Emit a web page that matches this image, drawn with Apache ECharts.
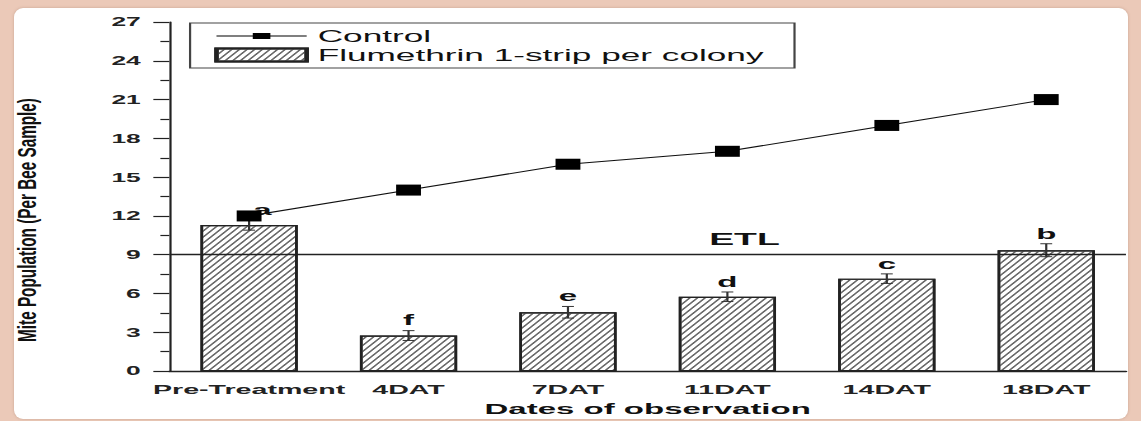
<!DOCTYPE html>
<html>
<head>
<meta charset="utf-8">
<script src="https://cdn.jsdelivr.net/npm/echarts@6/dist/echarts.min.js"></script>
<style>
  html, body { margin: 0; padding: 0; background: #ebc9b8; overflow: hidden; }
  #panel { position: absolute; left: 14px; top: 8px; width: 1114px; height: 411px;
           background: #fff; border-radius: 9px; box-shadow: 0 0 3px rgba(150,110,90,0.4); }
  /* the original figure is stretched sideways (about 2.2x), so draw narrow and widen */
  #main { position: absolute; left: 0; top: 0; width: 518.64px; height: 421px;
          transform: scaleX(2.2); transform-origin: 0 0; }
</style>
</head>
<body>
<div id="panel"></div>
<div id="main"></div>
<script>
const categories = ['Pre-Treatment', '4DAT', '7DAT', '11DAT', '14DAT', '18DAT'];
const control = [12, 14, 16, 17, 19, 21];
const flumethrin = [11.3, 2.75, 4.55, 5.75, 7.15, 9.35];
const flumethrinErr = [0.4, 0.38, 0.45, 0.37, 0.37, 0.5];
const letters = ['a', 'f', 'e', 'd', 'c', 'b'];
const etl = 9;

const font = 'Liberation Sans';
const errData = flumethrin.map((v, i) => [i, v - flumethrinErr[i], v + flumethrinErr[i]]);

const chart = echarts.init(document.getElementById('main'), null, { renderer: 'svg' });

function renderErr(params, api) {
  const i = api.value(0);
  const top = api.coord([i, api.value(2)]);
  const bot = api.coord([i, api.value(1)]);
  const cap = 2.7;
  const st = { stroke: '#333', lineWidth: 1 };
  // 'a' sits to the right of the control marker in the original
  const dx = params.dataIndex === 0 ? 6 : 0;
  return {
    type: 'group',
    children: [
      { type: 'line', shape: { x1: top[0], y1: top[1], x2: bot[0], y2: bot[1] }, style: st },
      { type: 'line', shape: { x1: top[0] - cap, y1: top[1], x2: top[0] + cap, y2: top[1] }, style: st },
      { type: 'line', shape: { x1: bot[0] - cap, y1: bot[1], x2: bot[0] + cap, y2: bot[1] }, style: st },
      {
        type: 'text', x: top[0] + dx, y: top[1] - 3, z2: 10,
        style: {
          text: letters[params.dataIndex], textAlign: 'center', textVerticalAlign: 'bottom',
          font: 'bold 15px ' + font, fill: '#111'
        }
      }
    ]
  };
}

// line with a small square, drawn as one filled path (tiny corner dots fix the box)
const controlIcon = 'path://M0,0h0.01v0.01h-0.01z M0,6.1h41v0.8h-41z M16.5,3.6h8v5.8h-8z M40.99,12.99h0.01v0.01h-0.01z';

chart.setOption({
  animation: false,
  grid: { left: 77, right: 7.2, top: 22, bottom: 49.5 },
  legend: {
    orient: 'vertical', left: 86.4, top: 23,
    backgroundColor: '#fff', borderColor: '#444', borderWidth: 1,
    padding: [5, 14, 5, 11],
    itemWidth: 41, itemHeight: 13, itemGap: 3,
    textStyle: { fontSize: 16, lineHeight: 16, fontFamily: font, color: '#111' },
    data: [
      { name: 'Control', icon: controlIcon },
      { name: 'Flumethrin 1-strip per colony', icon: 'rect' }
    ]
  },
  graphic: [{
    type: 'text', x: 12.4, y: 220, rotation: Math.PI / 2, scaleY: 0.76,
    style: {
      text: 'Mite Population (Per Bee Sample)', textAlign: 'center', textVerticalAlign: 'middle',
      font: 'bold 15.3px ' + font, fill: '#111'
    }
  }],
  xAxis: [{
    type: 'category', data: categories,
    name: 'Dates of observation', nameLocation: 'middle', nameGap: 28,
    nameTextStyle: { fontFamily: font, fontWeight: 'bold', fontSize: 15, color: '#111' },
    axisLine: { lineStyle: { color: '#222', width: 1.3 } },
    axisTick: { alignWithLabel: true, length: 7, lineStyle: { color: '#222', width: 1 } },
    axisLabel: { interval: 0, fontFamily: font, fontWeight: 'bold', fontSize: 13, color: '#222', margin: 12 },
    splitLine: { show: false }
  }, {
    type: 'category', data: categories, position: 'bottom',
    axisLine: { show: false },
    axisTick: { length: 4, lineStyle: { color: '#222', width: 1 } },
    axisLabel: { show: false },
    splitLine: { show: false }
  }],
  yAxis: {
    type: 'value', min: 0, max: 27, interval: 3,
    axisLine: { show: true, lineStyle: { color: '#222', width: 1 } },
    axisTick: { show: true, length: 7.3, lineStyle: { color: '#222', width: 1.2 } },
    minorTick: { show: true, splitNumber: 2, length: 4.1, lineStyle: { color: '#222', width: 1.2 } },
    axisLabel: { fontFamily: font, fontWeight: 'bold', fontSize: 12, color: '#222', margin: 13 },
    splitLine: { show: false }
  },
  series: [{
    name: 'Flumethrin 1-strip per colony', type: 'bar', data: flumethrin, barWidth: '61%',
    itemStyle: {
      color: '#fff', borderColor: '#222', borderWidth: 1.2,
      decal: { symbol: 'rect', color: '#6a6a6a', dashArrayX: [1, 0], dashArrayY: [0.75, 1.25], rotation: -Math.PI / 3 }
    },
    markLine: {
      silent: true, symbol: 'none',
      lineStyle: { color: '#222', width: 1.3, type: 'solid' },
      label: {
        show: true, formatter: 'ETL', position: 'insideMiddleTop', distance: 7, offset: [44, 0],
        fontFamily: font, fontWeight: 'bold', fontSize: 17, color: '#111'
      },
      data: [{ yAxis: etl }]
    }
  }, {
    name: 'Control', type: 'line', data: control, z: 5,
    symbol: 'rect', symbolSize: [11.3, 11],
    itemStyle: { color: '#000' },
    lineStyle: { color: '#111', width: 1 }
  }, {
    name: 'err', type: 'custom', data: errData, z: 4,
    encode: { x: 0, y: [1, 2] },
    renderItem: renderErr
  }]
});
</script>
</body>
</html>
